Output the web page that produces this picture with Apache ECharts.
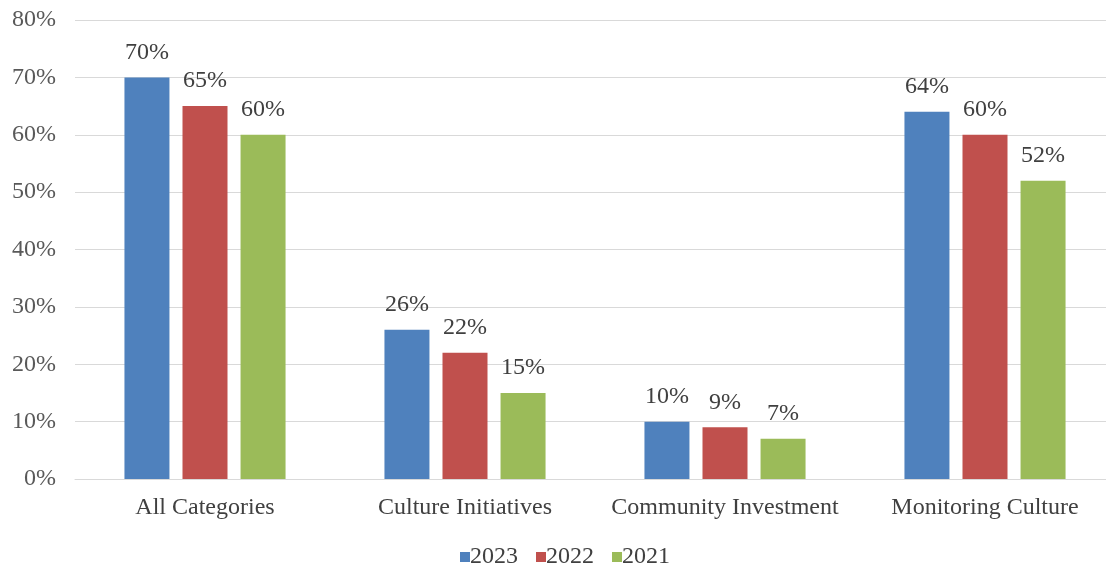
<!DOCTYPE html>
<html><head><meta charset="utf-8">
<script src="https://cdn.jsdelivr.net/npm/echarts@6/dist/echarts.min.js"></script>
<style>html,body{margin:0;padding:0;background:#fff}#c{width:1106px;height:568px}</style>
</head><body><div id="c"></div>
<script>
const categories = ['All Categories', 'Culture Initiatives', 'Community Investment', 'Monitoring Culture'];
const seriesNames = ['2023', '2022', '2021'];
const v2023 = [70, 26, 10, 64];
const v2022 = [65, 22, 9, 60];
const v2021 = [60, 15, 7, 52];
const yTicks = [0, 10, 20, 30, 40, 50, 60, 70, 80];

const colors = ['#4F81BD', '#C0504D', '#9BBB59'];
const font = '"Liberation Serif", "Times New Roman", serif';
const chart = echarts.init(document.getElementById('c'));
const mk = (name, data, i) => ({
  name, type: 'bar', data, barWidth: 45, barGap: '29%',
  itemStyle: { color: colors[i] },
  label: { show: true, position: 'top', distance: 13, formatter: '{c}%', fontFamily: font, fontSize: 24, color: '#404040' }
});
chart.setOption({
  animation: false,
  textStyle: { fontFamily: font },
  grid: { left: 75, top: 20, width: 1040, height: 459, containLabel: false, outerBoundsMode: 'none' },
  legend: {
    bottom: -6, left: 455, itemWidth: 10, itemHeight: 10, itemGap: 18,
    icon: 'rect', textStyle: { fontFamily: font, fontSize: 24, color: '#404040', padding: [0, 0, 0, -5] },
    data: seriesNames
  },
  xAxis: {
    type: 'category', data: categories,
    axisLine: { lineStyle: { color: '#d9d9d9' } },
    axisTick: { show: false },
    axisLabel: { fontFamily: font, fontSize: 24, color: '#404040', margin: 17, interval: 0 }
  },
  yAxis: {
    type: 'value', min: 0, max: 80, interval: 10,
    axisLabel: { fontFamily: font, fontSize: 24, color: '#595959', margin: 19,
      formatter: v => yTicks.includes(v) ? v + '%' : '' },
    splitLine: { lineStyle: { color: '#d9d9d9' } },
    axisLine: { show: false }, axisTick: { show: false }
  },
  series: [mk(seriesNames[0], v2023, 0), mk(seriesNames[1], v2022, 1), mk(seriesNames[2], v2021, 2)]
});
</script></body></html>
